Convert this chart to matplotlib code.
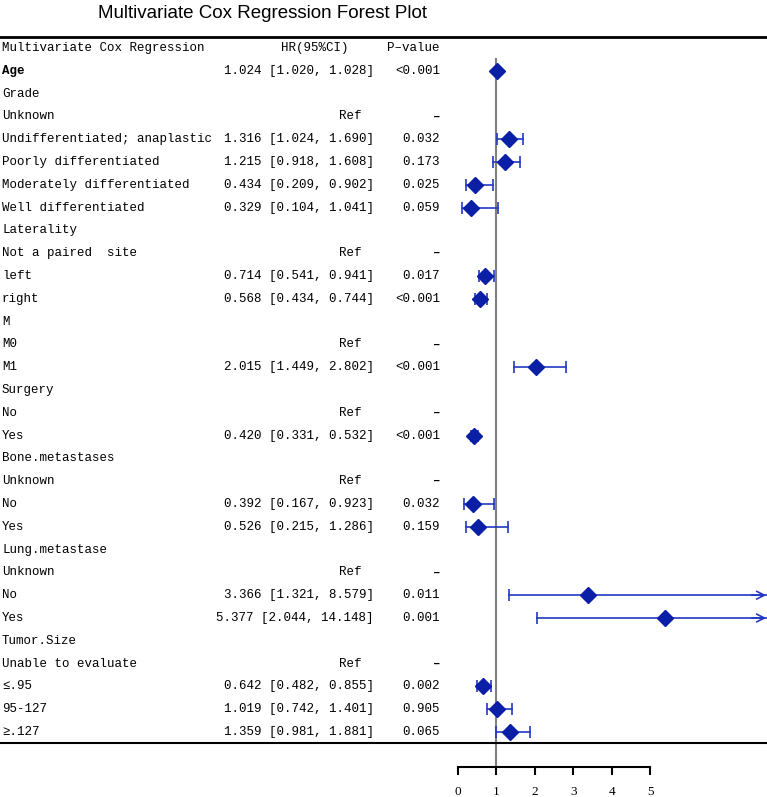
import matplotlib.pyplot as plt
from matplotlib import transforms

# rows of the table, top to bottom
labels = ["Age", "Grade", "Unknown", "Undifferentiated; anaplastic", "Poorly differentiated",
          "Moderately differentiated", "Well differentiated", "Laterality", "Not a paired  site",
          "left", "right", "M", "M0", "M1", "Surgery", "No", "Yes", "Bone.metastases", "Unknown",
          "No", "Yes", "Lung.metastase", "Unknown", "No", "Yes", "Tumor.Size",
          "Unable to evaluate", "\u2264.95", "95-127", "\u2265.127"]
# None = group header, "ref" = reference level
hr = [1.024, None, "ref", 1.316, 1.215, 0.434, 0.329, None, "ref", 0.714, 0.568, None, "ref", 2.015,
      None, "ref", 0.420, None, "ref", 0.392, 0.526, None, "ref", 3.366, 5.377, None, "ref",
      0.642, 1.019, 1.359]
lo = [1.020, None, None, 1.024, 0.918, 0.209, 0.104, None, None, 0.541, 0.434, None, None, 1.449,
      None, None, 0.331, None, None, 0.167, 0.215, None, None, 1.321, 2.044, None, None,
      0.482, 0.742, 0.981]
hi = [1.028, None, None, 1.690, 1.608, 0.902, 1.041, None, None, 0.941, 0.744, None, None, 2.802,
      None, None, 0.532, None, None, 0.923, 1.286, None, None, 8.579, 14.148, None, None,
      0.855, 1.401, 1.881]
pval = ["<0.001", "", "-", "0.032", "0.173", "0.025", "0.059", "", "-", "0.017", "<0.001", "", "-",
        "<0.001", "", "-", "<0.001", "", "-", "0.032", "0.159", "", "-", "0.011", "0.001", "", "-",
        "0.002", "0.905", "0.065"]
xticks = [0, 1, 2, 3, 4, 5]

W, H = 767, 797
mono = ["Liberation Mono", "DejaVu Sans Mono"]
fs = 9
col_marker = "#0a1fa6"
col_line = "#2338c2"

fig = plt.figure(figsize=(W / 100, H / 100), dpi=100)
ax = fig.add_axes([0, 0, 1, 1])

# pixel layout: x=0 at 458px, 38.5px per unit; header row at 48px, 22.8px per row
x0, ux = 458, 38.5
y0, uy = 48, 22.8
xmax = (W - x0) / ux
ax.set_xlim(-x0 / ux, xmax)
ax.set_ylim((H - y0) / uy, -y0 / uy)
axis_row = (767 - y0) / uy

def px(x):
    return x / W

trf = transforms.blended_transform_factory(fig.transFigure, ax.transData)

# header
ax.text(px(2), 0, "Multivariate Cox Regression", transform=trf, family=mono, fontsize=fs, va="center")
ax.text(px(315), 0, "HR(95%CI)", transform=trf, family=mono, fontsize=fs, va="center", ha="center")
ax.text(px(440), 0, "P\u2013value", transform=trf, family=mono, fontsize=fs, va="center", ha="right")

for k, lab in enumerate(labels):
    i = k + 1
    ax.text(px(2), i, lab, transform=trf, family=mono, fontsize=fs, va="center",
            fontweight="bold" if lab == "Age" else "normal")
    if hr[k] == "ref":
        ax.text(px(350), i, "Ref", transform=trf, family=mono, fontsize=fs, va="center", ha="center")
        ax.text(px(440), i, "\u2013", transform=trf, family=mono, fontsize=fs, va="center",
                ha="right", fontweight="bold")
    elif hr[k] is not None:
        ax.text(px(374), i, f"{hr[k]:.3f} [{lo[k]:.3f}, {hi[k]:.3f}]", transform=trf,
                family=mono, fontsize=fs, va="center", ha="right")
        ax.text(px(440), i, pval[k], transform=trf, family=mono, fontsize=fs, va="center", ha="right")
        right = min(hi[k], xmax)
        ax.plot([lo[k], right], [i, i], color=col_line, lw=1.2, zorder=2)
        ax.plot([lo[k]], [i], marker="|", ms=8, mew=1.2, color=col_line, zorder=2)
        if hi[k] <= xmax:
            ax.plot([hi[k]], [i], marker="|", ms=8, mew=1.2, color=col_line, zorder=2)
        else:
            ax.annotate("", xy=(xmax - 0.02, i), xytext=(xmax - 0.4, i),
                        arrowprops=dict(arrowstyle="->", color=col_line, lw=1.2,
                                        mutation_scale=14, shrinkA=0, shrinkB=0))
        ax.plot([hr[k]], [i], marker="D", ms=8.5, color=col_marker, zorder=3)

# reference line at HR = 1
ax.plot([1, 1], [0.48, axis_row], color="#808080", lw=1.5, zorder=1)

# horizontal rules
ax.axhline((37 - y0) / uy, color="black", lw=2)
ax.axhline((743 - y0) / uy, color="black", lw=1.5)

# x axis
for s in ["top", "left", "right"]:
    ax.spines[s].set_visible(False)
ax.spines["bottom"].set_position(("data", axis_row))
ax.spines["bottom"].set_bounds(0, 5)
ax.spines["bottom"].set_linewidth(1.5)
ax.set_xticks(xticks)
ax.set_xticklabels([str(t) for t in xticks], family=["Liberation Serif"], fontsize=9.5)
ax.tick_params(axis="x", direction="out", length=6, width=1.5, pad=8)
ax.set_yticks([])

fig.text(262 / W, 1 - 14 / H, "Multivariate Cox Regression Forest Plot", family=["Liberation Sans"],
         fontsize=13.5, ha="center", va="center")

fig.savefig("out.png", dpi=100)
